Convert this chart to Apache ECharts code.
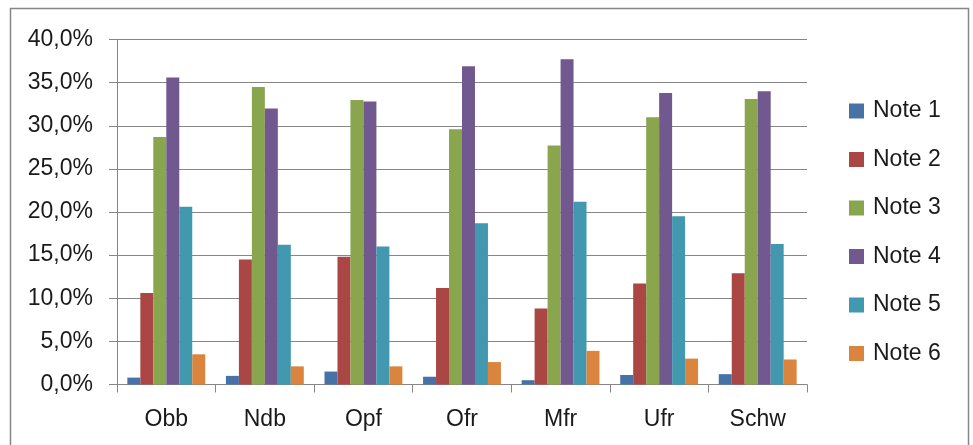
<!DOCTYPE html>
<html>
<head>
<meta charset="utf-8">
<script src="https://cdn.jsdelivr.net/npm/echarts@6/dist/echarts.min.js"></script>
<style>
  html, body { margin: 0; padding: 0; background: #fff; }
  #chart { width: 973px; height: 445px; }
</style>
</head>
<body>
<div id="chart"></div>
<script>
// Regions (Bavarian administrative districts)
const regions = ['Obb', 'Ndb', 'Opf', 'Ofr', 'Mfr', 'Ufr', 'Schw'];

// Share of each grade per region, in percent
const note1 = [0.8, 1.0, 1.5, 0.9, 0.5, 1.1, 1.2];
const note2 = [10.6, 14.5, 14.8, 11.2, 8.8, 11.7, 12.9];
const note3 = [28.7, 34.5, 33.0, 29.6, 27.7, 31.0, 33.1];
const note4 = [35.6, 32.0, 32.8, 36.9, 37.7, 33.8, 34.0];
const note5 = [20.6, 16.2, 16.0, 18.7, 21.2, 19.5, 16.3];
const note6 = [3.5, 2.1, 2.1, 2.6, 3.9, 3.0, 2.9];

// Y axis range
const yMin = 0;
const yMax = 40;
const yStep = 5;

const seriesNames = ['Note 1', 'Note 2', 'Note 3', 'Note 4', 'Note 5', 'Note 6'];
const seriesData = [note1, note2, note3, note4, note5, note6];
const colors = ['#4672a8', '#aa4643', '#89a54e', '#71588f', '#4198af', '#db843d'];

const font = '"Liberation Sans", Arial, sans-serif';
const lineColor = '#868686';
const textColor = '#1a1a1a';

const chart = echarts.init(document.getElementById('chart'), null, { renderer: 'canvas' });

chart.setOption({
  animation: false,
  backgroundColor: '#ffffff',
  color: colors,
  graphic: [{
    type: 'rect',
    shape: { x: 10.5, y: 8.5, width: 958, height: 460 },
    style: { fill: 'none', stroke: lineColor, lineWidth: 1.5 },
    silent: true
  }],
  grid: { left: 117, right: 166, top: 39.5, bottom: 60.5, containLabel: false },
  legend: {
    orient: 'vertical',
    left: 844,
    top: 94,
    itemWidth: 15,
    itemHeight: 15,
    itemGap: 24.5,
    icon: 'rect',
    data: seriesNames,
    textStyle: { fontFamily: font, fontSize: 23, color: textColor, lineHeight: 24, padding: [0, 0, 0, 4] }
  },
  xAxis: {
    type: 'category',
    data: regions,
    axisLine: { lineStyle: { color: lineColor, width: 1 } },
    axisTick: { show: true, length: 8, lineStyle: { color: lineColor } },
    axisLabel: { fontFamily: font, fontSize: 23, color: textColor, margin: 24 }
  },
  yAxis: {
    type: 'value',
    min: yMin,
    max: yMax,
    interval: yStep,
    axisLine: { show: true, lineStyle: { color: lineColor, width: 1 } },
    axisTick: { show: true, length: 8, inside: false, lineStyle: { color: lineColor } },
    splitLine: { show: true, lineStyle: { color: lineColor, width: 1 } },
    axisLabel: {
      fontFamily: font, fontSize: 23, color: textColor, margin: 24,
      formatter: v => v.toFixed(1).replace('.', ',') + '%'
    }
  },
  series: seriesNames.map((name, i) => ({
    name,
    type: 'bar',
    data: seriesData[i],
    barGap: '0%',
    barCategoryGap: '21%',
    itemStyle: { color: colors[i] }
  }))
});
</script>
</body>
</html>
